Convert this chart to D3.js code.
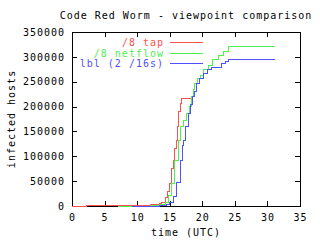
<!DOCTYPE html>
<html>
<head>
<meta charset="utf-8">
<script src="https://cdn.jsdelivr.net/npm/d3@7"></script>
<style>
  body { margin: 0; background: #fff; }
  text { font-family: "DejaVu Sans Mono", monospace; font-size: 10px; letter-spacing: 1px; }
  path, line, rect { shape-rendering: crispEdges; }
</style>
</head>
<body>
<div class="svg-frame" style="width:320px;height:240px"></div>
<script>
// values
const xTicks = [0, 5, 10, 15, 20, 25, 30, 35]
const yTicks = [0, 50000, 100000, 150000, 200000, 250000, 300000, 350000]

const tapTime = [0, 2.25, 12, 13.5, 13.8, 14.3, 14.7, 15.04, 15.3, 15.55, 15.8, 15.97, 16.17, 16.32, 16.58, 16.81, 18.35]
const tapHosts = [0, 1000, 2500, 5000, 8000, 18000, 30000, 45700, 75000, 92500, 115000, 132700, 160000, 190000, 207000, 216600, 216600]

const netTime = [7, 9.2, 12, 13.5, 14.3, 14.8, 15.3, 15.8, 16.3, 16.69, 17.1, 17.6, 18.0, 18.37, 18.6, 18.88, 19.3, 19.65, 20.2, 20.9, 21.6, 22.46, 23.2, 24.0, 31.16]
const netHosts = [0, 0, 1500, 3000, 8000, 22000, 45700, 92500, 132700, 159500, 172000, 186500, 200000, 219900, 235000, 247000, 256000, 263500, 273600, 283600, 294000, 303700, 311000, 320000, 321800]

const lblTime = [9.2, 13.5, 14.5, 15.0, 15.55, 16.07, 16.58, 16.9, 17.08, 17.45, 17.85, 18.2, 18.5, 18.88, 19.14, 19.6, 20.16, 20.8, 21.45, 22.46, 22.97, 23.5, 24.0, 31.16]
const lblHosts = [0, 1500, 4000, 8000, 18700, 46300, 92500, 122700, 132700, 159500, 186500, 205000, 219900, 231000, 246800, 257000, 266900, 274000, 279000, 279000, 287000, 291000, 295100, 295100]

const seriesNames = ["/8 tap", "/8 netflow", "lbl (2 /16s)"]
const seriesColors = ["#ff5050", "#50f050", "#5050ff"]

function drawViz() {
  const series = [
    {name: seriesNames[0], color: seriesColors[0], pts: tapTime.map((t, i) => [t, tapHosts[i]])},
    {name: seriesNames[1], color: seriesColors[1], pts: netTime.map((t, i) => [t, netHosts[i]])},
    {name: seriesNames[2], color: seriesColors[2], pts: lblTime.map((t, i) => [t, lblHosts[i]])}
  ]

  const svg = d3.select(".svg-frame")
    .append("svg")
    .attr("width", 320)
    .attr("height", 240)

  const margin = {top: 32, right: 20, bottom: 34, left: 72}
  const xScale = d3.scaleLinear([0, 35], [margin.left, 320 - margin.right])
  const yScale = d3.scaleLinear([0, 350000], [240 - margin.bottom, margin.top])

  //frame first, so the series sit on top of it
  svg.append("rect")
    .attr("x", xScale(0) + 0.5)
    .attr("y", yScale(350000) + 0.5)
    .attr("width", xScale(35) - xScale(0))
    .attr("height", yScale(0) - yScale(350000))
    .attr("fill", "none")
    .attr("stroke", "#000")

  //axes with inward ticks on all sides
  svg.append("g")
    .attr("transform", `translate(0,${yScale(0)})`)
    .call(d3.axisBottom(xScale).tickValues(xTicks).tickSize(-5).tickSizeOuter(0).tickPadding(8))
  svg.append("g")
    .attr("transform", `translate(0,${yScale(350000)})`)
    .call(d3.axisTop(xScale).tickValues(xTicks).tickSize(-5).tickSizeOuter(0).tickFormat(""))
  svg.append("g")
    .attr("transform", `translate(${xScale(0)},0)`)
    .call(d3.axisLeft(yScale).tickValues(yTicks).tickSize(-5).tickSizeOuter(0).tickPadding(7).tickFormat(d3.format("d")))
  svg.append("g")
    .attr("transform", `translate(${xScale(35)},0)`)
    .call(d3.axisRight(yScale).tickValues(yTicks).tickSize(-5).tickSizeOuter(0).tickFormat(""))
  svg.selectAll(".tick text").attr("fill", "#000")
  svg.selectAll("g").attr("font-family", null).attr("font-size", null)
  svg.selectAll(".domain").remove()
  svg.selectAll(".tick line").attr("stroke", "#000")

  const line = d3.line()
    .x(d => xScale(d[0]))
    .y(d => yScale(d[1]))
    .curve(d3.curveStepAfter)

  svg.selectAll("path.series")
    .data(series)
    .join("path")
      .attr("class", "series")
      .attr("fill", "none")
      .attr("stroke", d => d.color)
      .attr("stroke-width", 1)
      .attr("d", d => line(d.pts))

  //legend
  const legend = svg.selectAll("g.legend")
    .data(series)
    .join("g")
      .attr("class", "legend")
      .attr("transform", (d, i) => `translate(0,${42.5 + i * 10.7})`)
  legend.append("text")
    .attr("x", 164)
    .attr("dy", "0.35em")
    .attr("text-anchor", "end")
    .attr("fill", d => d.color)
    .text(d => d.name)
  legend.append("line")
    .attr("x1", 170).attr("x2", 203)
    .attr("stroke", d => d.color)

  svg.append("text")
    .attr("x", 186).attr("y", 19)
    .attr("text-anchor", "middle")
    .text("Code Red Worm - viewpoint comparison")
  svg.append("text")
    .attr("x", 186).attr("y", 236)
    .attr("text-anchor", "middle")
    .text("time (UTC)")
  svg.append("text")
    .attr("transform", "translate(15,119) rotate(-90)")
    .attr("text-anchor", "middle")
    .text("infected hosts")
}

drawViz()
</script>
</body>
</html>
